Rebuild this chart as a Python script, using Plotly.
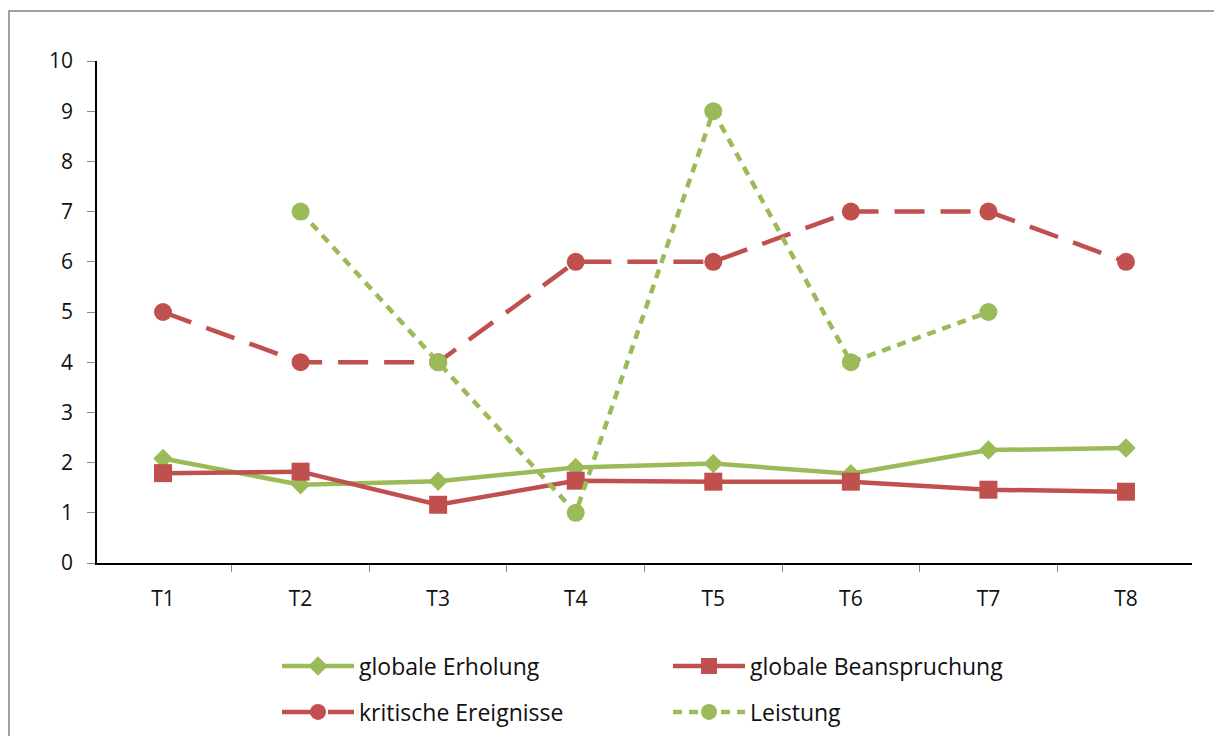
import plotly.graph_objects as go

categories = ["T1", "T2", "T3", "T4", "T5", "T6", "T7", "T8"]
globale_erholung = [2.08, 1.56, 1.63, 1.90, 1.98, 1.78, 2.25, 2.29]
globale_beanspruchung = [1.79, 1.82, 1.16, 1.64, 1.62, 1.62, 1.46, 1.42]
kritische_ereignisse = [5, 4, 4, 6, 6, 7, 7, 6]
leistung = [None, 7, 4, 1, 9, 4, 5, None]
y_ticks = [0, 1, 2, 3, 4, 5, 6, 7, 8, 9, 10]

GREEN = "#9BBB59"
RED = "#C0504D"
FONT = "Open Sans, Lato, sans-serif"

fig = go.Figure()
fig.add_trace(go.Scatter(
    x=categories, y=globale_erholung, name="globale Erholung",
    mode="lines+markers", line=dict(color=GREEN, width=4.5),
    marker=dict(symbol="diamond", size=15, color=GREEN), legend="legend"))
fig.add_trace(go.Scatter(
    x=categories, y=globale_beanspruchung, name="globale Beanspruchung",
    mode="lines+markers", line=dict(color=RED, width=4.5),
    marker=dict(symbol="square", size=18, color=RED), legend="legend"))
fig.add_trace(go.Scatter(
    x=categories, y=kritische_ereignisse, name="kritische Ereignisse",
    mode="lines+markers", line=dict(color=RED, width=4.5, dash="30px,16px"),
    marker=dict(symbol="circle", size=18, color=RED), legend="legend2"))
fig.add_trace(go.Scatter(
    x=categories, y=leistung, name="Leistung",
    mode="lines+markers", line=dict(color=GREEN, width=4.5, dash="9px,7px"),
    marker=dict(symbol="circle", size=18, color=GREEN), legend="legend2",
    connectgaps=False))

W, H = 1214, 736
ml, mr, mt, mb = 97, 22, 61, 173
pw, ph = W - ml - mr, H - mt - mb

def px_x(x):
    return (x - ml) / pw

def px_y(y):
    return (H - mb - y) / ph

legend_common = dict(
    orientation="h", xanchor="left", yanchor="middle",
    entrywidth=304, entrywidthmode="pixels",
    font=dict(family=FONT, size=23, color="#111"),
    bgcolor="rgba(0,0,0,0)", itemwidth=72,
)

fig.update_layout(
    width=W, height=H,
    margin=dict(l=ml, r=mr, t=mt, b=mb, autoexpand=False),
    paper_bgcolor="white", plot_bgcolor="white",
    showlegend=True,
    legend=dict(x=px_x(277), y=px_y(666), **legend_common),
    legend2=dict(x=px_x(277), y=px_y(712), **legend_common),
    xaxis=dict(
        type="category", showgrid=False, zeroline=False,
        showline=True, linecolor="black", linewidth=1.5,
        ticks="outside", tickson="boundaries", ticklen=7, tickcolor="#888",
        tickfont=dict(family=FONT, size=21, color="#111"),
        ticklabelstandoff=16,
    ),
    yaxis=dict(
        range=[0, 10], tickvals=y_ticks, showgrid=False, zeroline=False,
        showline=True, linecolor="black", linewidth=1.5,
        ticks="outside", ticklen=8, tickcolor="#888",
        tickfont=dict(family=FONT, size=21, color="#111"),
        ticklabelstandoff=10,
    ),
    shapes=[dict(
        type="rect", xref="paper", yref="paper",
        x0=px_x(9), x1=px_x(1240), y0=px_y(760), y1=px_y(11),
        line=dict(color="#808080", width=1.5), fillcolor="rgba(0,0,0,0)",
        layer="below",
    )],
)

fig.write_html("out.html")
